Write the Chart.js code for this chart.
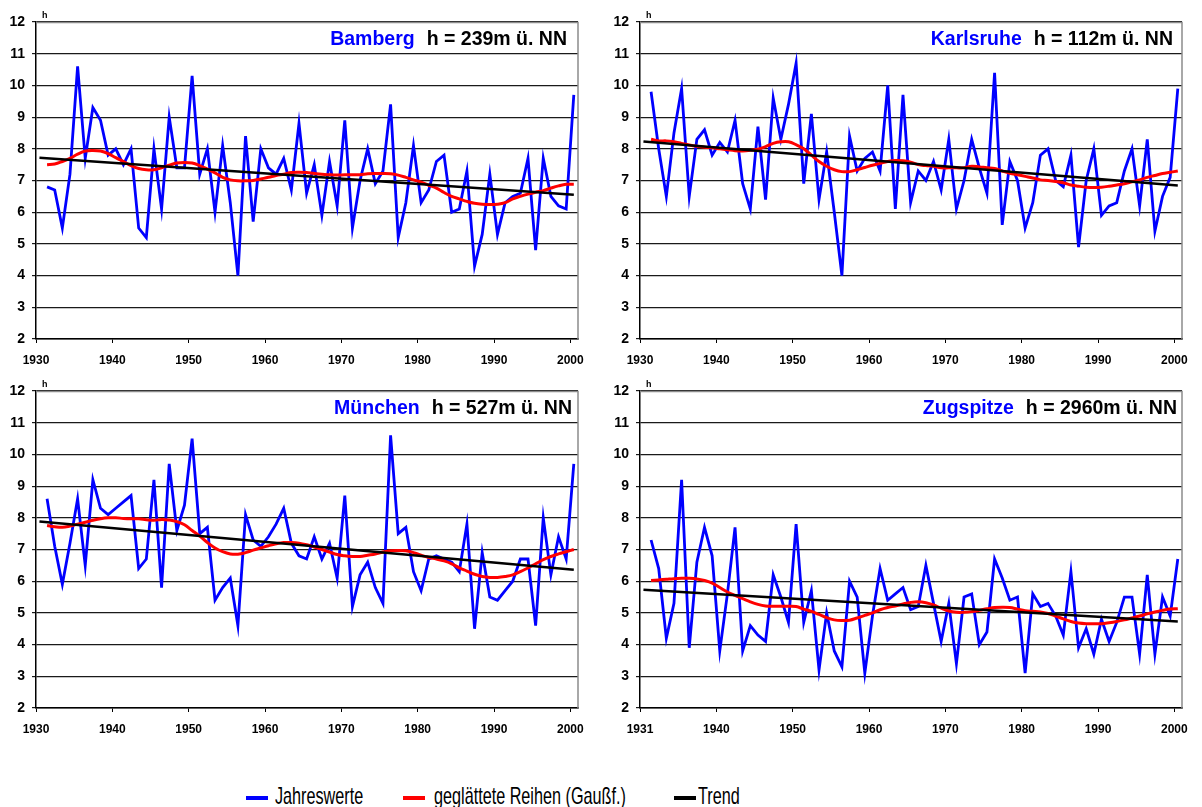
<!DOCTYPE html>
<html>
<head>
<meta charset="utf-8">
<title>Jährliche Werte 1931–2000</title>
<script src="https://cdn.jsdelivr.net/npm/chart.js@4.4.1/dist/chart.umd.min.js"></script>
<style>
  html, body { margin: 0; padding: 0; background: #fff; width: 1202px; height: 807px; overflow: hidden; }
  .panel { position: absolute; }
  .panel canvas { display: block; }
  .swatch { position: absolute; top: 796px; width: 22px; height: 4px; }
  .lbl {
    position: absolute; top: 782px; line-height: 24px; white-space: nowrap;
    font: 24px "Liberation Sans", Arial, sans-serif; color: #000;
    transform: scaleX(0.675); transform-origin: left center;
  }
</style>
</head>
<body>

<div class="panel" style="left:0;top:0"><canvas id="c0" width="600" height="370"></canvas></div>
<div class="panel" style="left:604px;top:0"><canvas id="c1" width="598" height="370"></canvas></div>
<div class="panel" style="left:0;top:369px"><canvas id="c2" width="600" height="370"></canvas></div>
<div class="panel" style="left:604px;top:369px"><canvas id="c3" width="598" height="370"></canvas></div>

<span class="swatch" style="left:246px;background:#0000ff"></span>
<span class="lbl" style="left:275px">Jahreswerte</span>
<span class="swatch" style="left:403px;background:#ff0000"></span>
<span class="lbl" style="left:434px">geglättete Reihen (Gaußf.)</span>
<span class="swatch" style="left:674px;background:#000000"></span>
<span class="lbl" style="left:698px">Trend</span>

<script>
// Years of the series
const years = [
  1931,1932,1933,1934,1935,1936,1937,1938,1939,1940,
  1941,1942,1943,1944,1945,1946,1947,1948,1949,1950,
  1951,1952,1953,1954,1955,1956,1957,1958,1959,1960,
  1961,1962,1963,1964,1965,1966,1967,1968,1969,1970,
  1971,1972,1973,1974,1975,1976,1977,1978,1979,1980,
  1981,1982,1983,1984,1985,1986,1987,1988,1989,1990,
  1991,1992,1993,1994,1995,1996,1997,1998,1999,2000
];

// Start and end year of each trend line
const trendYears = [1930, 2000];

// Bamberg
const bambergValues = [
  6.8,6.7,5.5,7.2,10.6,7.7,9.3,8.9,7.8,8.0,
  7.5,8.0,5.5,5.2,8.0,6.1,9.0,7.4,7.4,10.3,
  7.2,8.0,6.0,8.1,6.3,4.0,8.4,5.7,8.0,7.4,
  7.2,7.7,6.7,8.8,6.6,7.5,5.9,7.6,6.2,8.9,
  5.5,7.0,8.0,6.9,7.3,9.4,5.2,6.3,8.1,6.3,
  6.7,7.6,7.8,6.0,6.1,7.3,4.3,5.3,7.2,5.3,
  6.3,6.5,6.6,7.7,4.8,7.7,6.5,6.2,6.1,9.7
];
const bambergSmooth = [
  7.50,7.52,7.60,7.70,7.83,7.93,7.95,7.93,7.85,7.72,
  7.60,7.47,7.38,7.34,7.34,7.40,7.48,7.55,7.57,7.55,
  7.47,7.36,7.24,7.10,7.02,6.99,6.99,7.00,7.05,7.10,
  7.16,7.20,7.25,7.26,7.25,7.22,7.20,7.18,7.17,7.18,
  7.18,7.18,7.21,7.22,7.22,7.21,7.17,7.10,7.02,6.95,
  6.85,6.76,6.62,6.50,6.42,6.34,6.28,6.25,6.24,6.25,
  6.30,6.42,6.50,6.57,6.63,6.68,6.76,6.83,6.88,6.88
];
const bambergTrend = [7.72, 6.55];

// Karlsruhe
const karlsruheValues = [
  9.8,8.0,6.5,8.5,9.9,6.5,8.3,8.6,7.8,8.2,
  7.9,8.9,6.9,6.1,8.7,6.4,9.6,8.3,9.4,10.7,
  6.9,9.1,6.4,7.9,6.0,4.0,8.4,7.3,7.7,7.9,
  7.3,10.0,6.1,9.7,6.3,7.3,7.0,7.6,6.7,8.3,
  6.1,7.0,8.3,7.4,6.6,10.4,5.6,7.6,7.0,5.5,
  6.3,7.8,8.0,7.0,6.8,7.8,4.9,7.0,8.0,5.9,
  6.2,6.3,7.3,8.0,6.2,8.3,5.4,6.5,7.1,9.9
];
const karlsruheSmooth = [
  8.30,8.25,8.25,8.22,8.17,8.12,8.08,8.05,8.03,8.00,
  7.97,7.94,7.93,7.95,7.99,8.07,8.17,8.22,8.22,8.13,
  8.00,7.80,7.60,7.45,7.34,7.28,7.28,7.34,7.41,7.48,
  7.54,7.60,7.63,7.62,7.58,7.50,7.47,7.45,7.40,7.40,
  7.40,7.40,7.45,7.43,7.40,7.38,7.30,7.23,7.18,7.13,
  7.08,7.02,7.00,6.97,6.93,6.86,6.82,6.79,6.78,6.79,
  6.82,6.86,6.90,6.96,7.02,7.10,7.16,7.22,7.26,7.30
];
const karlsruheTrend = [8.23, 6.84];

// München
const muenchenValues = [
  8.6,7.1,5.9,7.2,8.6,6.5,9.2,8.3,8.1,8.3,
  8.5,8.7,6.4,6.7,9.2,5.8,9.7,7.6,8.4,10.5,
  7.5,7.7,5.4,5.8,6.1,4.6,8.1,7.3,7.1,7.4,
  7.8,8.3,7.2,6.8,6.7,7.4,6.7,7.2,6.1,8.7,
  5.2,6.2,6.6,5.8,5.3,10.6,7.5,7.7,6.3,5.7,
  6.7,6.8,6.7,6.6,6.3,7.8,4.5,6.9,5.5,5.4,
  5.7,6.0,6.7,6.7,4.6,8.0,6.2,7.4,6.7,9.7
];
const muenchenSmooth = [
  7.76,7.72,7.70,7.74,7.80,7.86,7.92,7.97,8.00,8.00,
  7.98,7.97,7.97,7.94,7.92,7.95,7.93,7.88,7.78,7.60,
  7.42,7.22,7.05,6.93,6.86,6.85,6.90,6.98,7.05,7.12,
  7.18,7.22,7.22,7.20,7.15,7.08,7.00,6.92,6.84,6.80,
  6.78,6.78,6.82,6.86,6.92,6.96,6.97,6.96,6.90,6.82,
  6.75,6.70,6.64,6.55,6.42,6.32,6.22,6.15,6.12,6.12,
  6.15,6.20,6.30,6.42,6.55,6.68,6.78,6.86,6.93,7.00
];
const muenchenTrend = [7.88, 6.36];

// Zugspitze
const zugspitzeValues = [
  7.3,6.4,4.2,5.3,9.2,3.9,6.6,7.7,6.8,3.8,
  5.6,7.7,3.8,4.6,4.3,4.1,6.2,5.5,4.7,7.8,
  4.7,5.7,3.2,5.0,3.8,3.3,6.0,5.5,3.1,4.9,
  6.4,5.4,5.6,5.8,5.1,5.2,6.5,5.3,4.1,5.3,
  3.4,5.5,5.6,4.0,4.4,6.7,6.1,5.4,5.5,3.1,
  5.6,5.2,5.3,4.9,4.3,6.3,3.9,4.5,3.7,4.8,
  4.1,4.7,5.5,5.5,3.7,6.2,3.7,5.5,4.9,6.7
];
const zugspitzeSmooth = [
  6.02,6.04,6.06,6.08,6.09,6.09,6.07,6.02,5.94,5.80,
  5.66,5.55,5.45,5.35,5.27,5.22,5.21,5.21,5.21,5.20,
  5.12,5.05,4.95,4.85,4.78,4.76,4.77,4.84,4.92,5.00,
  5.10,5.17,5.22,5.28,5.33,5.35,5.32,5.25,5.15,5.06,
  5.02,5.02,5.04,5.08,5.13,5.17,5.18,5.17,5.12,5.07,
  5.05,5.03,4.98,4.90,4.81,4.73,4.68,4.66,4.66,4.66,
  4.69,4.73,4.78,4.84,4.90,4.97,5.03,5.08,5.12,5.13
];
const zugspitzeTrend = [5.73, 4.73];

// Axis labelling
const tickYears = [1930, 1940, 1950, 1960, 1970, 1980, 1990, 2000];
const yearLabels = ['1930', '1940', '1950', '1960', '1970', '1980', '1990', '2000'];
const yearLabelsZugspitze = ['1931', '1940', '1950', '1960', '1970', '1980', '1990', '2000'];

const stationNames = ['Bamberg', 'Karlsruhe', 'München', 'Zugspitze'];
const stationHeights = ['h = 239m ü. NN', 'h = 112m ü. NN', 'h = 527m ü. NN', 'h = 2960m ü. NN'];

const FONT = '"Liberation Sans", Arial, sans-serif';
const YEAR_SHIFT = 0.45;      // yearly values sit inside their year interval
const PLOT_RIGHT = 578;       // right edge of each plot area inside its canvas

const toPoints = (xs, ys) => xs.map((yr, i) => ({ x: yr + YEAR_SHIFT, y: ys[i] }));

// Gray frame on top and right of the plot area
const framePlugin = {
  id: 'frame',
  beforeDatasetsDraw(chart) {
    const a = chart.chartArea, ctx = chart.ctx;
    ctx.save();
    ctx.strokeStyle = '#8c8c8c';
    ctx.lineWidth = 1.5;
    ctx.beginPath();
    ctx.moveTo(a.left, a.top + 0.5);
    ctx.lineTo(a.right, a.top + 0.5);
    ctx.lineTo(a.right, a.bottom);
    ctx.stroke();
    ctx.restore();
  }
};

// Station name (blue) and elevation (black) in the top band, plus the unit label
const headerPlugin = {
  id: 'header',
  afterDraw(chart, args, opts) {
    const a = chart.chartArea, ctx = chart.ctx;
    ctx.save();
    ctx.font = 'bold 19.5px ' + FONT;
    ctx.textBaseline = 'alphabetic';
    ctx.textAlign = 'right';
    const xr = a.right - opts.rightGap;
    const yb = a.top + 22.5;
    ctx.fillStyle = '#000';
    ctx.fillText(opts.height, xr, yb);
    const w = ctx.measureText(opts.height).width;
    ctx.fillStyle = '#0000ff';
    ctx.fillText(opts.name, xr - w - 12, yb);
    ctx.font = 'bold 9px ' + FONT;
    ctx.textAlign = 'left';
    ctx.fillStyle = '#000';
    ctx.fillText('h', a.left + 6, a.top - 4);
    ctx.restore();
  }
};

function makeChart(canvasId, values, smooth, trend, labels, name, height, rightGap) {
  const canvas = document.getElementById(canvasId);
  const W = canvas.width;
  return new Chart(canvas, {
    type: 'line',
    data: {
      datasets: [
        { label: 'Trend', data: toPoints(trendYears, trend),
          borderColor: '#000000', borderWidth: 2.5, pointRadius: 0, tension: 0 },
        { label: 'geglättete Reihen (Gaußf.)', data: toPoints(years, smooth),
          borderColor: '#ff0000', borderWidth: 3, pointRadius: 0, tension: 0.4 },
        { label: 'Jahreswerte', data: toPoints(years, values),
          borderColor: '#0000ff', borderWidth: 2.8, pointRadius: 0, tension: 0 }
      ]
    },
    options: {
      responsive: false,
      animation: false,
      parsing: false,
      layout: { padding: { left: 0, top: 22, right: W - PLOT_RIGHT, bottom: 0 } },
      plugins: {
        legend: { display: false },
        tooltip: { enabled: false },
        header: { name: name, height: height, rightGap: rightGap }
      },
      scales: {
        x: {
          type: 'linear', min: 1930, max: 2001,
          afterBuildTicks: s => { s.ticks = tickYears.map(v => ({ value: v })); },
          afterFit: s => { s.height = 31; },
          grid: { drawOnChartArea: false, drawTicks: true, tickLength: 4, color: '#000', lineWidth: 1 },
          border: { color: '#000', width: 1.5 },
          ticks: {
            autoSkip: false, maxRotation: 0, padding: 10, color: '#000',
            font: { family: FONT, size: 12, weight: 'bold' },
            callback: (v, i) => labels[i]
          }
        },
        y: {
          min: 2, max: 12,
          afterFit: s => { s.width = 36; },
          grid: { color: '#1a1a1a', lineWidth: 1.2, tickLength: 4 },
          border: { color: '#000', width: 1.5 },
          ticks: {
            stepSize: 1, padding: 7, color: '#000',
            font: { family: FONT, size: 14, weight: 'bold' }
          }
        }
      }
    },
    plugins: [framePlugin, headerPlugin]
  });
}

makeChart('c0', bambergValues, bambergSmooth, bambergTrend, yearLabels, stationNames[0], stationHeights[0], 11);
makeChart('c1', karlsruheValues, karlsruheSmooth, karlsruheTrend, yearLabels, stationNames[1], stationHeights[1], 9);
makeChart('c2', muenchenValues, muenchenSmooth, muenchenTrend, yearLabels, stationNames[2], stationHeights[2], 6);
makeChart('c3', zugspitzeValues, zugspitzeSmooth, zugspitzeTrend, yearLabelsZugspitze, stationNames[3], stationHeights[3], 5);
</script>
</body>
</html>
